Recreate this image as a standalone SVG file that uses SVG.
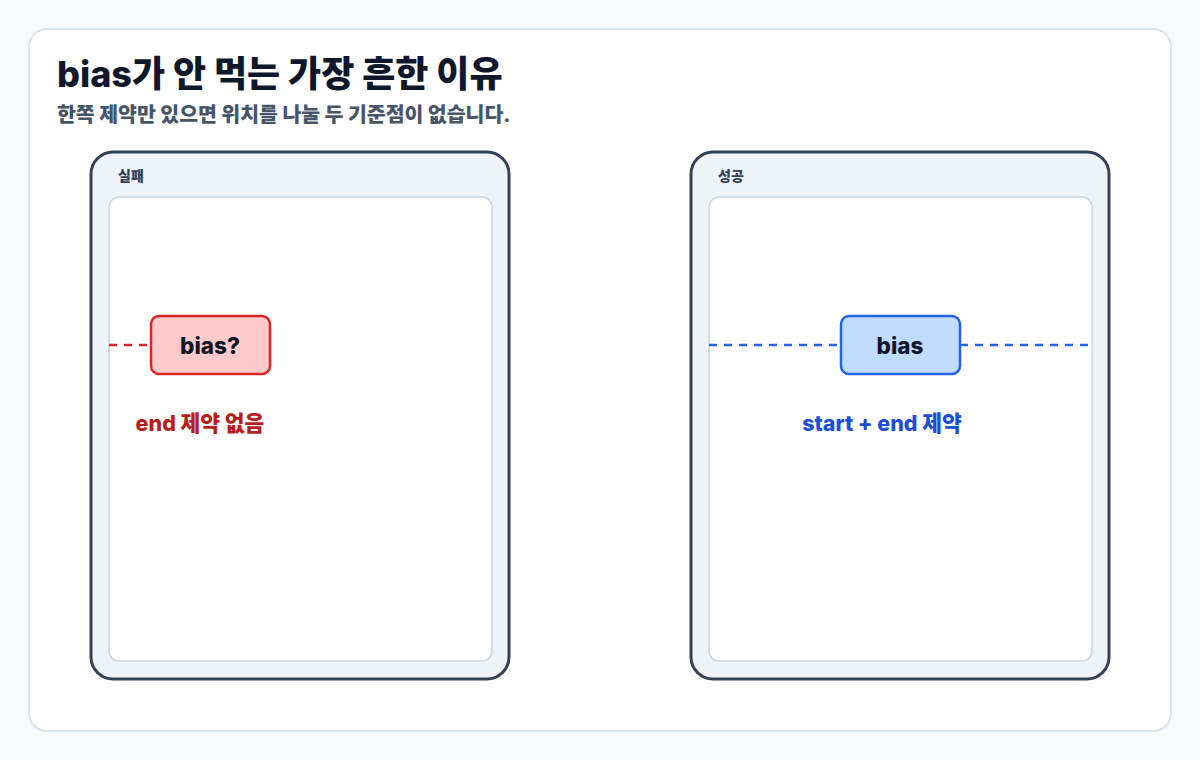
<svg xmlns="http://www.w3.org/2000/svg" width="1200" height="760" viewBox="0 0 1200 760">
<style>
text{font-family:"Inter","Noto Sans CJK KR",sans-serif;font-weight:800}
.panel{fill:#eef3f8;stroke:#334155;stroke-width:3}
.inner{fill:#fff;stroke:#cbd5e1;stroke-width:1.5}
.plabel{font-size:14px;fill:#334155}
.node text{font-size:22.5px;fill:#0f172a;text-anchor:middle}
</style>
<rect width="1200" height="760" fill="#f7f9fb"/>
<rect x="29" y="29" width="1142" height="702" rx="18" fill="#fff" stroke="#dbe3ee" stroke-width="2"/>
<text x="57" y="87" font-size="36" fill="#0f172a">bias가 안 먹는 가장 흔한 이유</text>
<text x="57" y="122" font-size="20.5" fill="#475569">한쪽 제약만 있으면 위치를 나눌 두 기준점이 없습니다.</text>
<g id="fail-panel">
<rect class="panel" x="91" y="152" width="418" height="527" rx="22"/>
<rect class="inner" x="109" y="197" width="383" height="464" rx="10"/>
<text class="plabel" x="118" y="181">실패</text>
</g>
<g id="success-panel">
<rect class="panel" x="691" y="152" width="418" height="527" rx="22"/>
<rect class="inner" x="709" y="197" width="383" height="464" rx="10"/>
<text class="plabel" x="718" y="181">성공</text>
</g>
<g id="connectors" stroke-width="2.5" stroke-dasharray="8 7" fill="none">
<line x1="109" y1="345" x2="151" y2="345" stroke="#dc2626"/>
<line x1="709" y1="345" x2="841" y2="345" stroke="#2563eb"/>
<line x1="960" y1="345" x2="1092" y2="345" stroke="#2563eb"/>
</g>
<g id="bias-fail" class="node">
<rect x="151" y="316" width="119" height="58" rx="8" fill="#fecaca" stroke="#dc2626" stroke-width="2.5"/>
<text x="210" y="354">bias?</text>
</g>
<g id="bias-ok" class="node">
<rect x="841" y="316" width="119" height="58" rx="8" fill="#bfdbfe" stroke="#2563eb" stroke-width="2.5"/>
<text x="900" y="354">bias</text>
</g>
<text x="200" y="431" font-size="21.5" fill="#b91c1c" text-anchor="middle">end 제약 없음</text>
<text x="882" y="431" font-size="21.5" fill="#1d4ed8" text-anchor="middle">start + end 제약</text>
</svg>
